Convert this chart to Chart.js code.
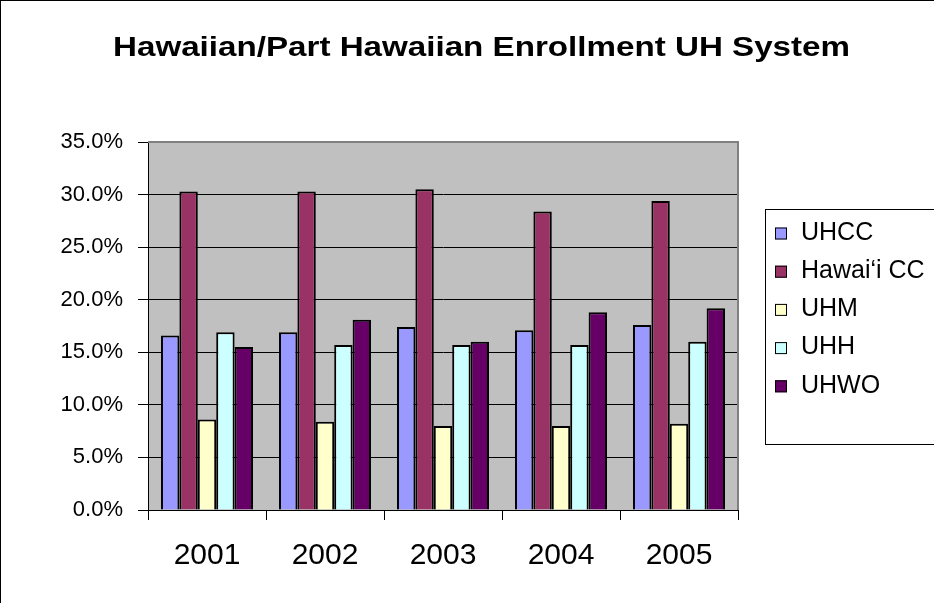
<!DOCTYPE html>
<html>
<head>
<meta charset="utf-8">
<script src="https://cdn.jsdelivr.net/npm/chart.js@4/dist/chart.umd.min.js"></script>
<style>
  html, body { margin: 0; padding: 0; background: #fff; }
  #wrap { width: 934px; height: 603px; position: relative; }
</style>
</head>
<body>
<div id="wrap"><canvas id="c" width="934" height="603"></canvas></div>
<script>
const titleText = "Hawaiian/Part Hawaiian Enrollment UH System";
const categories = ["2001", "2002", "2003", "2004", "2005"];
const seriesNames = ["UHCC", "Hawai\u2018i CC", "UHM", "UHH", "UHWO"];
const uhcc     = [16.6, 16.9, 17.4, 17.1, 17.6];
const hawaiiCC = [30.3, 30.3, 30.5, 28.4, 29.4];
const uhm      = [8.6, 8.4, 8.0, 8.0, 8.2];
const uhh      = [16.9, 15.7, 15.7, 15.7, 16.0];
const uhwo     = [15.5, 18.1, 16.0, 18.8, 19.2];
const seriesColors = ["#9999FF", "#993366", "#FFFFCC", "#CCFFFF", "#660066"];
const yMin = 0, yMax = 35, yStep = 5;

const seriesValues = [uhcc, hawaiiCC, uhm, uhh, uhwo];

const FONT = "'Liberation Sans', Arial, sans-serif";

const decorPlugin = {
  id: 'decor',
  beforeDraw(chart) {
    const ctx = chart.ctx;
    const a = chart.chartArea;
    ctx.save();
    ctx.fillStyle = '#fff';
    ctx.fillRect(0, 0, chart.width, chart.height);
    ctx.fillStyle = '#C0C0C0';
    ctx.fillRect(a.left, a.top, a.right - a.left, a.bottom - a.top);
    ctx.restore();
  },
  afterDatasetsDraw(chart) {
    const ctx = chart.ctx;
    const a = chart.chartArea;
    ctx.save();
    ctx.strokeStyle = '#808080';
    ctx.lineWidth = 2;
    ctx.beginPath();
    ctx.moveTo(a.left, a.top);
    ctx.lineTo(a.right, a.top);
    ctx.lineTo(a.right, a.bottom);
    ctx.stroke();
    ctx.restore();
  },
  afterDraw(chart) {
    const ctx = chart.ctx;
    ctx.save();
    // outer chart frame
    ctx.strokeStyle = '#000';
    ctx.lineWidth = 1;
    ctx.strokeRect(0.5, 0.5, chart.width + 20, chart.height + 20);

    // title
    ctx.fillStyle = '#000';
    ctx.font = "bold 28px " + FONT;
    ctx.textBaseline = 'alphabetic';
    ctx.textAlign = 'left';
    const w = ctx.measureText(titleText).width;
    const targetW = 737;
    ctx.save();
    ctx.translate(113, 56);
    ctx.scale(targetW / w, 1);
    ctx.fillText(titleText, 0, 0);
    ctx.restore();

    // legend
    ctx.strokeStyle = '#000';
    ctx.lineWidth = 1;
    ctx.strokeRect(765.5, 209.5, 220, 235);
    ctx.font = "25px " + FONT;
    ctx.textBaseline = 'middle';
    chart.data.datasets.forEach((ds, i) => {
      const y = 233.5 + i * 38.2;
      ctx.fillStyle = ds.backgroundColor;
      ctx.fillRect(775, y - 6, 12, 12);
      ctx.strokeRect(775.5, y - 5.5, 11, 11);
      ctx.fillStyle = '#000';
      ctx.fillText(ds.label, 801, y - 0.5);
    });
    ctx.restore();
  }
};

new Chart(document.getElementById('c'), {
  type: 'bar',
  data: {
    labels: categories,
    datasets: seriesNames.map((name, i) => ({
      label: name,
      data: seriesValues[i],
      backgroundColor: seriesColors[i],
      borderColor: '#000',
      borderWidth: 2,
      categoryPercentage: 0.78,
      barPercentage: 1.0
    }))
  },
  options: {
    responsive: false,
    animation: false,
    datasets: { bar: { categoryPercentage: 0.78, barPercentage: 1.0 } },
    layout: { padding: { top: 142, right: 196, left: 0, bottom: 0 } },
    plugins: {
      legend: { display: false },
      title: { display: false },
      tooltip: { enabled: false }
    },
    scales: {
      x: {
        offset: true,
        grid: { display: true, drawOnChartArea: false, drawTicks: true, tickLength: 10, color: '#000', lineWidth: 1, offset: true },
        border: { display: true, color: '#000', width: 1 },
        ticks: { color: '#000', font: { family: FONT, size: 30 }, padding: 18, maxRotation: 0 },
        afterFit(s) { s.height = 93; }
      },
      y: {
        min: yMin, max: yMax,
        grid: { color: '#000', lineWidth: 1, drawTicks: true, tickLength: 10 },
        border: { display: true, color: '#000', width: 1 },
        ticks: {
          stepSize: yStep, color: '#000', font: { family: FONT, size: 22 }, padding: 15,
          callback: v => v.toFixed(1) + '%'
        },
        afterFit(s) { s.width = 148; }
      }
    }
  },
  plugins: [decorPlugin]
});
</script>
</body>
</html>
